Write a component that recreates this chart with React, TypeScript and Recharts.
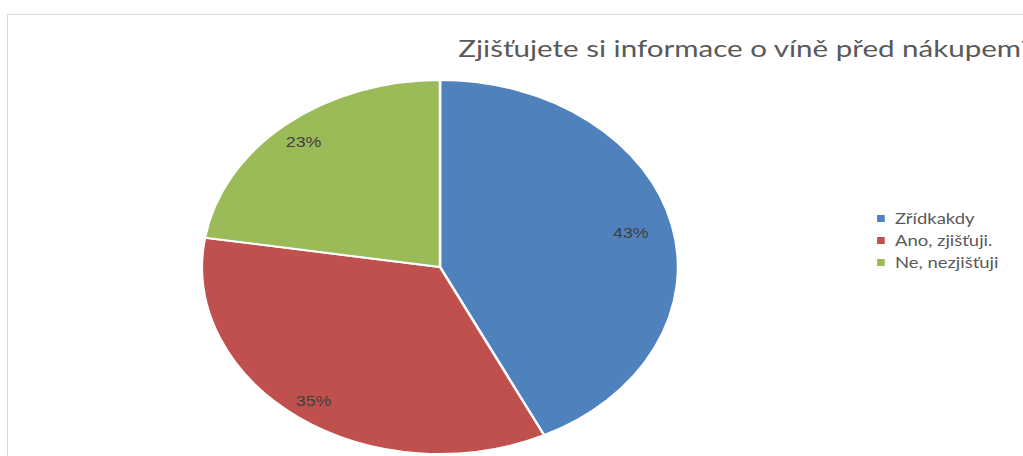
import * as React from "react"
import { Cell, Legend, Pie, PieChart } from "recharts"

const categories = ["Zřídkakdy", "Ano, zjišťuji.", "Ne, nezjišťuji"]
const shares = [42.8, 34.7, 22.5]
const colors = ["#4f81bd", "#c0504d", "#9bbb59"]
const title = "Zjišťujete si informace o víně před nákupem?"

// the reference is stretched sideways, so the whole chart is drawn narrow and scaled in x
const SX = 1.273
const W = 1040 / SX
const H = 456
const R = 187
const RAD = Math.PI / 180

const data = categories.map((name, i) => ({ name, value: shares[i] }))
const total = shares.reduce((a, b) => a + b, 0)

function renderLabel(props: any) {
  const { cx, cy, midAngle, outerRadius, value } = props
  const c = Math.cos(-midAngle * RAD)
  const s = Math.sin(-midAngle * RAD)
  const r = outerRadius - Math.abs(c) * 34
  return (
    <text
      x={cx + r * c}
      y={cy + r * s}
      textAnchor="middle"
      dominantBaseline="central"
      fill="#404040"
      fontSize={14}
      fontFamily="'Liberation Sans', Arial, sans-serif"
    >
      {`${Math.round((value / total) * 100)}%`}
    </text>
  )
}

function LegendBox() {
  return (
    <div style={{ fontFamily: "Lato, 'Open Sans', sans-serif", fontSize: 14.5, color: "#595959" }}>
      {categories.map((name, i) => (
        <div key={name} style={{ display: "flex", alignItems: "center", height: 22 }}>
          <span
            style={{ width: 6, height: 7, background: colors[i], display: "inline-block", marginRight: 8 }}
          />
          <span>{name}</span>
        </div>
      ))}
    </div>
  )
}

export default function App() {
  return (
    <div style={{ position: "fixed", left: 0, top: 0, width: 1023, height: 456, overflow: "hidden", background: "#fff" }}>
      <div
        style={{
          position: "absolute",
          left: 7,
          top: 14,
          width: 1100,
          height: 500,
          border: "1px solid #d9d9d9",
        }}
      />
      <div style={{ position: "absolute", left: 0, top: 0, transform: `scaleX(${SX})`, transformOrigin: "0 0" }}>
        <PieChart width={W} height={H} margin={{ top: 0, right: 0, bottom: 0, left: 0 }}>
          <text
            x={360}
            y={57}
            fill="#595959"
            fontSize={23}
            fontFamily="Lato, 'Open Sans', sans-serif"
            textLength={452}
            lengthAdjust="spacingAndGlyphs"
          >
            {title}
          </text>
          <Pie
            data={data}
            dataKey="value"
            nameKey="name"
            cx={440 / SX}
            cy={267}
            outerRadius={R}
            startAngle={90}
            endAngle={-270}
            stroke="#ffffff"
            strokeWidth={2}
            label={renderLabel}
            labelLine={false}
            isAnimationActive={false}
          >
            {data.map((d, i) => (
              <Cell key={d.name} fill={colors[i]} />
            ))}
          </Pie>
          <Legend
            content={<LegendBox />}
            wrapperStyle={{ left: 689, top: 207, width: 130 }}
          />
        </PieChart>
      </div>
    </div>
  )
}
